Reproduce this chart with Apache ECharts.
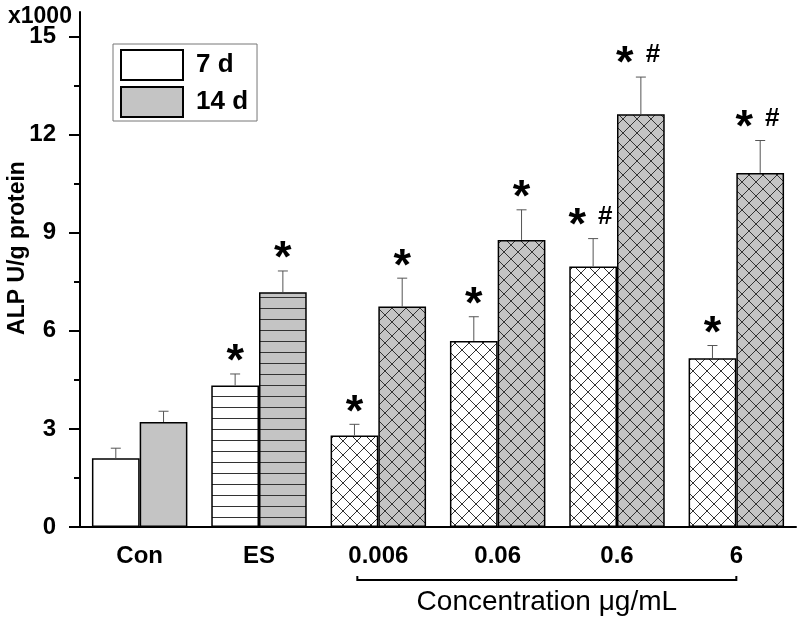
<!DOCTYPE html>
<html><head><meta charset="utf-8">
<script src="https://cdn.jsdelivr.net/npm/echarts@6/dist/echarts.min.js"></script>
<style>html,body{margin:0;padding:0;background:#fff}#c{width:800px;height:621px}</style>
</head><body><div id="c"></div>
<script>
// ---- data (x1000 U/g protein) ----
const categories = ['Con', 'ES', '0.006', '0.06', '0.6', '6'];
const mean7  = [2.10, 4.33, 2.80, 5.69, 7.97, 5.16];
const sd7    = [0.31, 0.35, 0.34, 0.74, 0.85, 0.39];
const mean14 = [3.21, 7.18, 6.74, 8.78, 12.62, 10.83];
const sd14   = [0.33, 0.65, 0.87, 0.92, 1.14, 0.99];
const mark7  = ['', '*', '*', '*', '*#', '*'];
const mark14 = ['', '*', '*', '*', '*#', '*#'];
const fillType = ['plain', 'hline', 'cross', 'cross', 'cross', 'cross'];
const yMajorTicks = [0, 3, 6, 9, 12, 15];
const yMinorTicks = [1.5, 4.5, 7.5, 10.5, 13.5];
const seriesNames = ['7 d', '14 d'];
const groupLabel = 'Concentration \u03bcg/mL';
const groupFrom = 2, groupTo = 5;

const FONT = '"Liberation Sans", Arial, sans-serif';
const WHITE = '#ffffff', GRAY = '#c4c4c4';

function makeFill(type, bg) {
  if (type === 'plain') return bg;
  const c = document.createElement('canvas');
  const g = c.getContext('2d');
  if (type === 'hline') {
    c.width = 8; c.height = 11;
    g.fillStyle = bg; g.fillRect(0, 0, 8, 11);
    g.strokeStyle = '#333'; g.lineWidth = 1;
    g.beginPath(); g.moveTo(0, 0.5); g.lineTo(8, 0.5); g.stroke();
  } else {
    const s = 14;
    c.width = s; c.height = s;
    g.fillStyle = bg; g.fillRect(0, 0, s, s);
    g.strokeStyle = '#333'; g.lineWidth = 1;
    g.beginPath();
    g.moveTo(-1, -1); g.lineTo(s + 1, s + 1);
    g.moveTo(s + 1, -1); g.lineTo(-1, s + 1);
    g.stroke();
  }
  return { image: c, repeat: 'repeat' };
}

const errData = [];
const errMarks = [];
categories.forEach((c, i) => {
  errData.push([i, mean7[i], mean7[i] + sd7[i], -1]); errMarks.push(mark7[i]);
  errData.push([i, mean14[i], mean14[i] + sd14[i], 1]); errMarks.push(mark14[i]);
});

const chart = echarts.init(document.getElementById('c'), null, { renderer: 'canvas' });

const starStyle = { text: '*', font: 'bold 45px ' + FONT, fill: '#000', align: 'center', verticalAlign: 'middle' };
const hashStyle = { text: '#', font: 'bold 26px ' + FONT, fill: '#000', align: 'center', verticalAlign: 'middle' };

const option = {
  animation: false,
  backgroundColor: '#fff',
  title: {
    text: 'x1000', left: 3, top: 0,
    textStyle: { fontFamily: FONT, fontSize: 23, fontWeight: 'bold', color: '#000' }
  },
  legend: {
    data: seriesNames, orient: 'vertical', left: 113, top: 44,
    icon: 'rect', itemWidth: 62, itemHeight: 30, itemGap: 5,
    padding: [5, 9, 3, 7], borderColor: '#777', borderWidth: 1,
    selectedMode: false,
    textStyle: { fontFamily: FONT, fontSize: 26, fontWeight: 'bold', color: '#000', padding: [0, 0, 0, 8] }
  },
  grid: { left: 80, right: 4, top: 12, bottom: 94, containLabel: false },
  xAxis: [{
    type: 'category', data: categories, position: 'bottom',
    axisLine: { lineStyle: { color: '#000', width: 2 } },
    axisTick: { alignWithLabel: true, length: 10, lineStyle: { color: '#000', width: 2 } },
    axisLabel: { fontFamily: FONT, fontSize: 24, fontWeight: 'bold', color: '#000', margin: 17 },
    splitLine: { show: false }
  }, {
    type: 'category', data: categories, position: 'bottom',
    axisLine: { show: false },
    axisTick: { alignWithLabel: false, length: 6, lineStyle: { color: '#000', width: 2 } },
    axisLabel: { show: false }, splitLine: { show: false }
  }],
  yAxis: [{
    type: 'value', min: 0, max: 15.75, interval: 3, position: 'left',
    axisLine: { show: true, lineStyle: { color: '#000', width: 2 } },
    axisTick: { show: true, customValues: yMajorTicks, length: 11, lineStyle: { color: '#000', width: 2 } },
    axisLabel: { customValues: yMajorTicks, fontFamily: FONT, fontSize: 24, fontWeight: 'bold', color: '#000', margin: 24 },
    splitLine: { show: false }
  }, {
    type: 'value', min: 0, max: 15.75, interval: 3, position: 'left',
    axisLine: { show: false },
    axisTick: { show: true, customValues: yMinorTicks, length: 6, lineStyle: { color: '#000', width: 2 } },
    axisLabel: { show: false }, splitLine: { show: false }
  }],
  graphic: [{
    type: 'text', x: 18, y: 248, rotation: Math.PI / 2,
    style: { text: 'ALP U/g protein', font: 'bold 23px ' + FONT, fill: '#000', align: 'center', verticalAlign: 'middle' }
  }],
  series: [{
    name: seriesNames[0], type: 'bar', barGap: '0%', barCategoryGap: '20%',
    itemStyle: { color: WHITE, borderColor: '#000', borderWidth: 1.5 },
    data: mean7.map((v, i) => ({ value: v, itemStyle: { color: makeFill(fillType[i], WHITE) } })),
    z: 2
  }, {
    name: seriesNames[1], type: 'bar', barGap: '0%', barCategoryGap: '20%',
    itemStyle: { color: GRAY, borderColor: '#000', borderWidth: 1.5 },
    data: mean14.map((v, i) => ({ value: v, itemStyle: { color: makeFill(fillType[i], GRAY) } })),
    z: 2
  }, {
    type: 'custom', name: 'err', z: 5, clip: false,
    data: errData,
    renderItem: function (params, api) {
      const i = api.value(0), side = api.value(3);
      const cw = api.size([1, 0])[0];
      const xc = api.coord([i, 0])[0] + side * cw * 0.2;
      const yTop = api.coord([i, api.value(1)])[1];
      const yErr = api.coord([i, api.value(2)])[1];
      const ch = [
        { type: 'line', shape: { x1: xc, y1: yTop, x2: xc, y2: yErr }, style: { stroke: '#555', lineWidth: 1 } },
        { type: 'line', shape: { x1: xc - 5, y1: yErr, x2: xc + 5, y2: yErr }, style: { stroke: '#555', lineWidth: 1 } }
      ];
      const m = errMarks[params.dataIndex];
      if (m === '*') {
        ch.push({ type: 'text', x: xc, y: yErr - 11, style: starStyle });
      } else if (m === '*#') {
        ch.push({ type: 'text', x: xc - 16, y: yErr - 12, style: starStyle });
        ch.push({ type: 'text', x: xc + 12, y: yErr - 22, style: hashStyle });
      }
      return { type: 'group', children: ch };
    }
  }, {
    type: 'custom', name: 'group', z: 5, clip: false,
    data: [[groupFrom, groupTo]],
    renderItem: function (params, api) {
      const x1 = api.coord([api.value(0), 0])[0] - 21;
      const x2 = api.coord([api.value(1), 0])[0];
      const y0 = api.coord([0, 0])[1] + 53;
      return {
        type: 'group', children: [
          { type: 'polyline', shape: { points: [[x1, y0 - 4], [x1, y0], [x2, y0], [x2, y0 - 4]] }, style: { stroke: '#000', lineWidth: 2, fill: null } },
          { type: 'text', x: (x1 + x2) / 2, y: y0 + 22, style: { text: groupLabel, font: '28px ' + FONT, fill: '#000', align: 'center', verticalAlign: 'middle' } }
        ]
      };
    }
  }]
};
chart.setOption(option);
</script>
</body></html>
